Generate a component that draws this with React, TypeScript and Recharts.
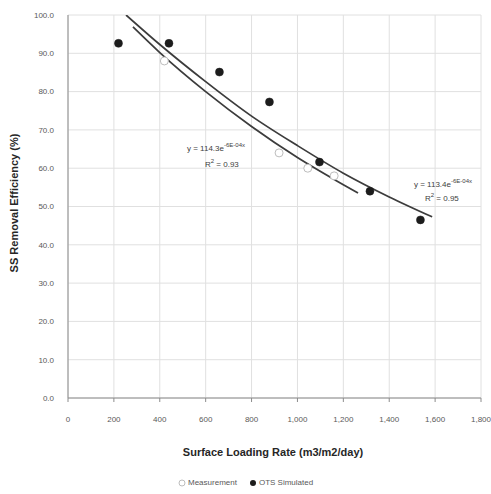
import React from "react";
import { ComposedChart, Line, Scatter, XAxis, YAxis, CartesianGrid } from "recharts";

const xTicks = [0, 200, 400, 600, 800, 1000, 1200, 1400, 1600, 1800];
const yTicks = [0, 10, 20, 30, 40, 50, 60, 70, 80, 90, 100];

const measurement = [
  { x: 420, y: 88 },
  { x: 920, y: 64 },
  { x: 1045, y: 60 },
  { x: 1160, y: 58 },
];

const otsSimulated = [
  { x: 220, y: 92.6 },
  { x: 440, y: 92.6 },
  { x: 660, y: 85.1 },
  { x: 878, y: 77.3 },
  { x: 1096, y: 61.6 },
  { x: 1316, y: 54.0 },
  { x: 1536, y: 46.5 },
];

const measurementTrend = [
  { x: 283, y: 96.9 },
  { x: 400, y: 90.2 },
  { x: 600, y: 80.0 },
  { x: 800, y: 70.9 },
  { x: 1000, y: 62.8 },
  { x: 1200, y: 55.7 },
  { x: 1264, y: 53.5 },
];

const otsTrend = [
  { x: 253, y: 100 },
  { x: 400, y: 92.3 },
  { x: 600, y: 82.6 },
  { x: 800, y: 73.6 },
  { x: 1000, y: 65.9 },
  { x: 1200, y: 58.7 },
  { x: 1400, y: 52.5 },
  { x: 1587, y: 47.3 },
];

const FONT = "'Liberation Sans', Arial, sans-serif";

const fmtX = (v: number) => v.toLocaleString("en-US");
const fmtY = (v: number) => v.toFixed(1);

const OpenDot = (props: any) => {
  const { cx, cy } = props;
  return <circle cx={cx} cy={cy} r={4} fill="#ffffff" stroke="#bdbdbd" strokeWidth={1} />;
};
const FilledDot = (props: any) => {
  const { cx, cy } = props;
  return <circle cx={cx} cy={cy} r={4} fill="#1c1c1c" stroke="#1c1c1c" strokeWidth={0.5} />;
};

export default function App() {
  const abs = (style: React.CSSProperties): React.CSSProperties => ({
    position: "absolute",
    fontFamily: FONT,
    whiteSpace: "nowrap",
    lineHeight: 1,
    ...style,
  });
  return (
    <div style={{ position: "absolute", left: 0, top: 0, width: 491, height: 494, background: "#fff" }}>
      <ComposedChart
        width={491}
        height={494}
        margin={{ top: 15, right: 10, bottom: 0, left: 0 }}
      >
        <CartesianGrid stroke="#e0e0e0" strokeWidth={1} />
        <XAxis
          type="number"
          dataKey="x"
          domain={[0, 1800]}
          ticks={xTicks}
          tickFormatter={fmtX}
          height={96}
          interval={0}
          allowDataOverflow
          stroke="#8c8c8c"
          tickSize={4}
          tickMargin={14}
          tick={{ fontSize: 8, fill: "#595959", fontFamily: FONT }}
        />
        <YAxis
          type="number"
          dataKey="y"
          domain={[0, 100]}
          ticks={yTicks}
          tickFormatter={fmtY}
          width={68}
          interval={0}
          allowDataOverflow
          stroke="#8c8c8c"
          tickLine={false}
          tickMargin={8}
          tick={{ fontSize: 8, fill: "#595959", fontFamily: FONT }}
        />
        <Line
          data={measurementTrend}
          dataKey="y"
          type="monotone"
          stroke="#3c3c3c"
          strokeWidth={1.75}
          dot={false}
          activeDot={false}
          isAnimationActive={false}
        />
        <Line
          data={otsTrend}
          dataKey="y"
          type="monotone"
          stroke="#3c3c3c"
          strokeWidth={1.75}
          dot={false}
          activeDot={false}
          isAnimationActive={false}
        />
        <Scatter data={measurement} dataKey="y" shape={<OpenDot />} isAnimationActive={false} />
        <Scatter data={otsSimulated} dataKey="y" shape={<FilledDot />} isAnimationActive={false} />
      </ComposedChart>

      <div
        style={abs({
          left: 14,
          top: 203,
          fontSize: 11,
          fontWeight: "bold",
          color: "#262626",
          transform: "translate(-50%, -50%) rotate(-90deg)",
        })}
      >
        SS Removal Efficiency (%)
      </div>
      <div
        style={abs({
          left: 273,
          top: 452,
          fontSize: 11,
          fontWeight: "bold",
          color: "#262626",
          transform: "translate(-50%, -50%)",
        })}
      >
        Surface Loading Rate (m3/m2/day)
      </div>

      <div style={abs({ left: 187, top: 142, fontSize: 8, color: "#404040" })}>
        y = 114.3e<sup style={{ fontSize: 6 }}>-6E-04x</sup>
      </div>
      <div style={abs({ left: 205, top: 158, fontSize: 8, color: "#404040" })}>
        R<sup style={{ fontSize: 6 }}>2</sup> = 0.93
      </div>
      <div style={abs({ left: 414, top: 178, fontSize: 8, color: "#404040" })}>
        y = 113.4e<sup style={{ fontSize: 6 }}>-6E-04x</sup>
      </div>
      <div style={abs({ left: 425, top: 192, fontSize: 8, color: "#404040" })}>
        R<sup style={{ fontSize: 6 }}>2</sup> = 0.95
      </div>

      <div
        style={abs({
          left: 178,
          top: 479,
          fontSize: 8,
          color: "#595959",
          display: "flex",
          alignItems: "center",
        })}
      >
        <svg width={8} height={8} style={{ marginRight: 2 }}>
          <circle cx={4} cy={4} r={3} fill="#fff" stroke="#bdbdbd" />
        </svg>
        <span style={{ marginRight: 12 }}>Measurement</span>
        <svg width={8} height={8} style={{ marginRight: 2 }}>
          <circle cx={4} cy={4} r={3} fill="#1c1c1c" />
        </svg>
        <span>OTS Simulated</span>
      </div>
    </div>
  );
}
